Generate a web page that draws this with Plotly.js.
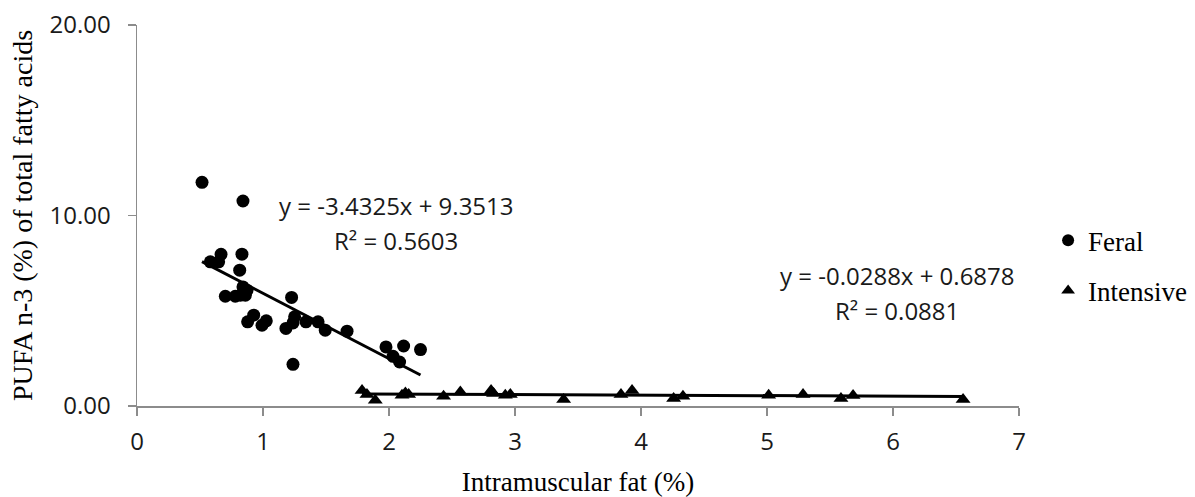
<!DOCTYPE html>
<html>
<head>
<meta charset="utf-8">
<script src="https://cdn.plot.ly/plotly-3.0.1.min.js"></script>
<style>html,body{margin:0;padding:0;background:#fff;}#chart{width:1195px;height:497px;}</style>
</head>
<body>
<div id="chart"></div>
<script>
// Feral: intramuscular fat (%) vs PUFA n-3 (%)
var feralX = [0.516,0.841,0.833,0.667,0.582,0.648,0.815,0.841,0.873,0.820,0.701,0.780,0.860,0.926,0.878,1.026,0.992,1.227,1.251,1.238,1.182,1.341,1.437,1.494,1.667,1.238,1.976,2.116,2.250,2.032,2.084];
var feralY = [11.74,10.76,7.97,7.96,7.57,7.57,7.13,6.25,6.08,5.82,5.76,5.76,5.82,4.77,4.42,4.47,4.24,5.70,4.68,4.36,4.07,4.42,4.42,3.98,3.93,2.19,3.10,3.15,2.96,2.61,2.31];
// Intensive
var intX = [1.786,1.825,1.891,2.103,2.130,2.156,2.433,2.566,2.810,2.830,2.923,2.963,3.386,3.841,3.929,4.259,4.333,5.013,5.286,5.587,5.683,6.556];
var intY = [0.82,0.61,0.30,0.56,0.68,0.61,0.51,0.74,0.82,0.65,0.56,0.61,0.34,0.61,0.82,0.39,0.51,0.56,0.61,0.39,0.55,0.34];
// Linear trend coefficients [slope, intercept] and R²
var feralFit = [-3.4325, 9.3513];
var feralR2 = "0.5603";
var intFit = [-0.0288, 0.6878];
var intR2 = "0.0881";
var seriesNames = ["Feral", "Intensive"];
var xTicks = [0,1,2,3,4,5,6,7];
var yTicks = [0,10,20];

function fitLine(xs, fit) {
  var lo = Math.min.apply(null, xs), hi = Math.max.apply(null, xs);
  return {x: [lo, hi], y: [fit[0]*lo + fit[1], fit[0]*hi + fit[1]]};
}
function eqText(fit) {
  var s = fit[1] >= 0 ? " + " : " - ";
  return "y = " + fit[0].toFixed(4) + "x" + s + Math.abs(fit[1]).toFixed(4);
}
var fl = fitLine(feralX, feralFit), il = fitLine(intX, intFit);

var data = [
  {x: feralX, y: feralY, mode: "markers", type: "scatter", name: seriesNames[0], legendgroup: "a",
   marker: {symbol: "circle", size: 13, color: "#000"}},
  {x: intX, y: intY, mode: "markers", type: "scatter", name: seriesNames[1], legendgroup: "b",
   marker: {symbol: "triangle-up", size: 13, color: "#000"}},
  {x: fl.x, y: fl.y, mode: "lines", type: "scatter", showlegend: false, hoverinfo: "skip",
   line: {color: "#000", width: 3}},
  {x: il.x, y: il.y, mode: "lines", type: "scatter", showlegend: false, hoverinfo: "skip",
   line: {color: "#000", width: 3}}
];

var tickFont = {family: "Open Sans, sans-serif", size: 24, color: "#1a1a1a"};
var serif = {family: "Liberation Serif, Times New Roman, serif", size: 27, color: "#000"};
var ytitleFont = {family: "Liberation Serif, Times New Roman, serif", size: 28, color: "#000"};
var annFont = {family: "Open Sans, sans-serif", size: 24, color: "#1a1a1a"};

var layout = {
  width: 1195, height: 497,
  margin: {l: 137, r: 176, t: 25, b: 91, autoexpand: false},
  paper_bgcolor: "#fff", plot_bgcolor: "#fff",
  showlegend: true,
  legend: {x: 1.033, y: 0.498, xanchor: "left", yanchor: "top", font: serif,
           tracegroupgap: 12, itemsizing: "constant", bgcolor: "rgba(0,0,0,0)"},
  xaxis: {range: [0, 7], tickvals: xTicks, ticks: "outside", ticklen: 8, tickwidth: 1.5,
          tickcolor: "#8c8c8c", showline: true, linecolor: "#8c8c8c", linewidth: 1.5,
          showgrid: false, zeroline: false, tickfont: tickFont, fixedrange: true,
          ticklabelstandoff: 6,
          title: {text: "Intramuscular fat (%)", font: serif}},
  yaxis: {range: [0, 20], tickvals: yTicks, tickformat: ".2f", ticks: "outside", ticklen: 8, tickwidth: 1.5,
          tickcolor: "#8c8c8c", showline: true, linecolor: "#8c8c8c", linewidth: 1.5,
          showgrid: false, zeroline: false, tickfont: tickFont, fixedrange: true,
          ticklabelstandoff: 12, automargin: true,
          title: {text: "PUFA n-3 (%) of total fatty acids", font: ytitleFont, standoff: 8}},
  annotations: [
    {x: 2.058, y: 10.55, xref: "x", yref: "y", text: eqText(feralFit), showarrow: false, font: annFont},
    {x: 2.058, y: 8.71, xref: "x", yref: "y", text: "R² = " + feralR2, showarrow: false, font: annFont},
    {x: 6.034, y: 6.87, xref: "x", yref: "y", text: eqText(intFit), showarrow: false, font: annFont},
    {x: 6.034, y: 5.02, xref: "x", yref: "y", text: "R² = " + intR2, showarrow: false, font: annFont}
  ]
};

Plotly.newPlot("chart", data, layout, {displayModeBar: false, staticPlot: true});
</script>
</body>
</html>
